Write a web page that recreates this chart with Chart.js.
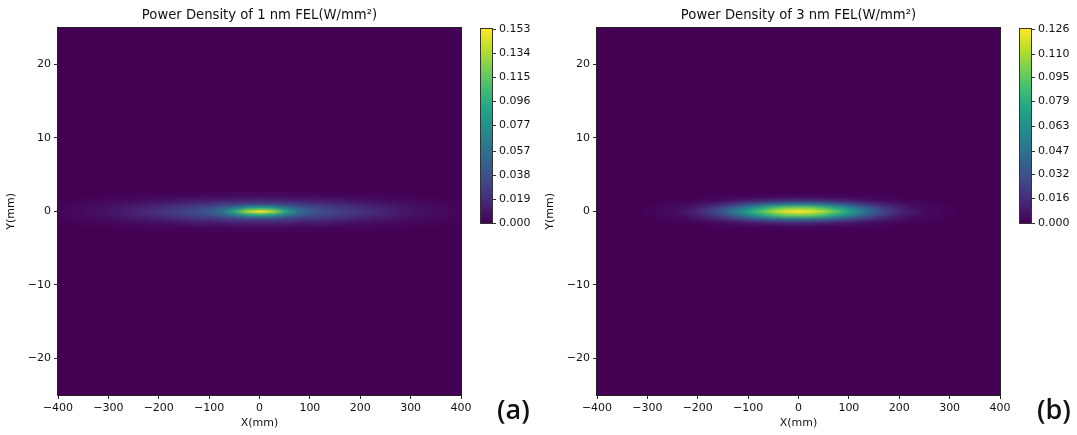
<!DOCTYPE html>
<html>
<head>
<meta charset="utf-8">
<script src="https://cdn.jsdelivr.net/npm/chart.js@4.4.1/dist/chart.umd.min.js"></script>
<style>
  body { margin: 0; background: #fff; width: 1077px; height: 435px; position: relative; overflow: hidden; }
  canvas { position: absolute; top: 0; }
  #chartA { left: 0; }
  #chartB { left: 539px; }
  .tag { position: absolute; top: 390px; font: 600 27px "Open Sans", sans-serif; color: #111; }
</style>
</head>
<body>
<canvas id="chartA" width="539" height="435"></canvas>
<canvas id="chartB" width="538" height="435"></canvas>
<div class="tag" style="left:497px">(a)</div>
<div class="tag" style="left:1037px">(b)</div>
<script>
// grid cell centres (mm)
const xCenters = [-400,-375,-350,-325,-300,-275,-250,-225,-200,-175,-150,-125,-100,-75,-50,-25,0,25,50,75,100,125,150,175,200,225,250,275,300,325,350,375,400];
const yCenters = [2.5, 2, 1.5, 1, 0.5, 0, -0.5, -1, -1.5, -2, -2.5];

const xTicks = [-400, -300, -200, -100, 0, 100, 200, 300, 400];
const yTicks = [-20, -10, 0, 10, 20];

// 1 nm FEL, power density rows (W/mm²)
const rowA_0  = [.002,.003,.005,.006,.009,.011,.014,.018,.022,.026,.030,.035,.042,.059,.093,.133,.153,.133,.093,.059,.042,.035,.030,.026,.022,.018,.014,.011,.009,.006,.005,.003,.002];
const rowA_05 = [.002,.003,.004,.006,.008,.010,.013,.016,.019,.023,.026,.031,.036,.046,.062,.082,.092,.082,.062,.046,.036,.031,.026,.023,.019,.016,.013,.010,.008,.006,.004,.003,.002];
const rowA_1  = [.001,.002,.003,.004,.005,.007,.009,.011,.013,.016,.018,.021,.023,.026,.028,.031,.032,.031,.028,.026,.023,.021,.018,.016,.013,.011,.009,.007,.005,.004,.003,.002,.001];
const rowA_15 = [.001,.001,.002,.002,.003,.004,.005,.006,.007,.008,.010,.011,.012,.013,.014,.014,.015,.014,.014,.013,.012,.011,.010,.008,.007,.006,.005,.004,.003,.002,.002,.001,.001];
const rowA_2  = [0,0,.001,.001,.001,.002,.002,.002,.003,.003,.004,.005,.005,.005,.006,.006,.006,.006,.006,.005,.005,.005,.004,.003,.003,.002,.002,.002,.001,.001,.001,0,0];
const rowA_25 = [0,0,0,0,0,0,.001,.001,.001,.001,.001,.001,.002,.002,.002,.002,.002,.002,.002,.002,.002,.001,.001,.001,.001,.001,.001,0,0,0,0,0,0];
const heatA = [rowA_25, rowA_2, rowA_15, rowA_1, rowA_05, rowA_0, rowA_05, rowA_1, rowA_15, rowA_2, rowA_25];

// 3 nm FEL
const rowB_0  = [0,0,0,0,.001,.002,.004,.008,.014,.023,.036,.053,.073,.092,.110,.122,.126,.122,.110,.092,.073,.053,.036,.023,.014,.008,.004,.002,.001,0,0,0,0];
const rowB_05 = [0,0,0,0,.001,.002,.003,.006,.011,.019,.029,.042,.058,.074,.088,.097,.101,.097,.088,.074,.058,.042,.029,.019,.011,.006,.003,.002,.001,0,0,0,0];
const rowB_1  = [0,0,0,0,0,.001,.002,.003,.006,.009,.015,.022,.030,.038,.045,.050,.052,.050,.045,.038,.030,.022,.015,.009,.006,.003,.002,.001,0,0,0,0,0];
const rowB_15 = [0,0,0,0,0,0,.001,.001,.002,.003,.005,.007,.010,.012,.015,.016,.017,.016,.015,.012,.010,.007,.005,.003,.002,.001,.001,0,0,0,0,0,0];
const rowB_2  = [0,0,0,0,0,0,0,0,0,.001,.001,.002,.002,.003,.003,.004,.004,.004,.003,.003,.002,.002,.001,.001,0,0,0,0,0,0,0,0,0];
const rowB_25 = [0,0,0,0,0,0,0,0,0,0,0,0,0,0,0,0,0,0,0,0,0,0,0,0,0,0,0,0,0,0,0,0,0];
const heatB = [rowB_25, rowB_2, rowB_15, rowB_1, rowB_05, rowB_0, rowB_05, rowB_1, rowB_15, rowB_2, rowB_25];

const cbTicksA = [0.000, 0.019, 0.038, 0.057, 0.077, 0.096, 0.115, 0.134, 0.153];
const cbTicksB = [0.000, 0.016, 0.032, 0.047, 0.063, 0.079, 0.095, 0.110, 0.126];

const viridisStops = [
    [68,1,84],[72,36,117],[65,68,135],[53,95,141],[42,120,142],[33,145,140],
    [34,168,132],[68,191,112],[122,209,81],[189,223,38],[253,231,37]
];
function viridis(t) {
    t = Math.max(0, Math.min(1, t));
    const p = t * (viridisStops.length - 1);
    const i = Math.min(Math.floor(p), viridisStops.length - 2);
    const f = p - i;
    const a = viridisStops[i], b = viridisStops[i + 1];
    return [0, 1, 2].map(k => Math.round(a[k] + (b[k] - a[k]) * f));
}

const FONT = "DejaVu Sans";
const TXT = "#111";
const fmt = v => v < 0 ? "\u2212" + Math.abs(v) : String(v);

function heatPlugin(grid, cbTicks) {
    const vmax = cbTicks[cbTicks.length - 1];
    return {
        id: "heat",
        beforeDatasetsDraw(chart) {
            const { ctx, chartArea: a, scales: { x, y } } = chart;
            ctx.save();
            ctx.beginPath();
            ctx.rect(a.left, a.top, a.right - a.left, a.bottom - a.top);
            ctx.clip();
            ctx.fillStyle = "rgb(68,1,84)";
            ctx.fillRect(a.left, a.top, a.right - a.left, a.bottom - a.top);

            const off = document.createElement("canvas");
            off.width = xCenters.length;
            off.height = yCenters.length;
            const octx = off.getContext("2d");
            const img = octx.createImageData(off.width, off.height);
            grid.forEach((row, j) => row.forEach((v, i) => {
                const c = viridis(v / vmax);
                const k = (j * off.width + i) * 4;
                img.data[k] = c[0]; img.data[k + 1] = c[1]; img.data[k + 2] = c[2]; img.data[k + 3] = 255;
            }));
            octx.putImageData(img, 0, 0);

            const hx = (xCenters[1] - xCenters[0]) / 2;
            const hy = (yCenters[0] - yCenters[1]) / 2;
            const x0 = x.getPixelForValue(xCenters[0] - hx);
            const x1 = x.getPixelForValue(xCenters[xCenters.length - 1] + hx);
            const y0 = y.getPixelForValue(yCenters[0] + hy);
            const y1 = y.getPixelForValue(yCenters[yCenters.length - 1] - hy);
            ctx.imageSmoothingEnabled = true;
            ctx.imageSmoothingQuality = "low";
            ctx.drawImage(off, x0, y0, x1 - x0, y1 - y0);
            ctx.restore();
        },
        afterDraw(chart) {
            const { ctx, chartArea: a } = chart;
            ctx.save();
            // axes frame
            ctx.strokeStyle = "#222";
            ctx.lineWidth = 1;
            ctx.strokeRect(Math.round(a.left) - 0.5, Math.round(a.top) - 0.5,
                Math.round(a.right - a.left) + 1, Math.round(a.bottom - a.top) + 1);

            // colorbar
            const cbX = Math.round(a.right) + 20, cbW = 11;
            const cbTop = Math.round(a.top) + 1, cbH = 194;
            const cbBot = cbTop + cbH;
            const g = ctx.createLinearGradient(0, cbBot, 0, cbTop);
            viridisStops.forEach((c, i) => g.addColorStop(i / (viridisStops.length - 1), `rgb(${c[0]},${c[1]},${c[2]})`));
            ctx.fillStyle = g;
            ctx.fillRect(cbX, cbTop, cbW, cbH);
            ctx.strokeStyle = "#333";
            ctx.strokeRect(cbX - 0.5, cbTop - 0.5, cbW + 1, cbH + 1);

            ctx.fillStyle = TXT;
            ctx.font = `11px "${FONT}"`;
            ctx.textBaseline = "middle";
            ctx.textAlign = "left";
            cbTicks.forEach(v => {
                const ty = Math.round(cbBot - (v / vmax) * cbH) + 0.5;
                ctx.beginPath();
                ctx.moveTo(cbX + cbW + 0.5, ty);
                ctx.lineTo(cbX + cbW + 4, ty);
                ctx.stroke();
                ctx.fillText(v.toFixed(3), cbX + cbW + 7, ty);
            });
            ctx.restore();
        }
    };
}

function makeChart(id, title, grid, cbTicks, rightPad) {
    const axisFont = { family: FONT, size: 11 };
    new Chart(document.getElementById(id), {
        type: "scatter",
        data: { datasets: [] },
        options: {
            responsive: false,
            animation: false,
            events: [],
            layout: { padding: { left: 0, right: rightPad, top: 0, bottom: 0 } },
            plugins: {
                legend: { display: false },
                tooltip: { enabled: false },
                title: {
                    display: true, text: title, fullSize: false, color: TXT,
                    font: { family: FONT, size: 13.2, weight: "normal" },
                    padding: { top: 8, bottom: 4 }
                }
            },
            scales: {
                x: {
                    type: "linear", min: -400, max: 400,
                    afterBuildTicks: s => { s.ticks = xTicks.map(v => ({ value: v })); },
                    afterFit: s => { s.height = 40; },
                    grid: { drawOnChartArea: false, drawTicks: true, tickLength: 4, color: "#222" },
                    border: { display: false },
                    ticks: { color: TXT, font: axisFont, padding: 3, maxRotation: 0, autoSkip: false, callback: fmt },
                    title: { display: true, text: "X(mm)", color: TXT, font: axisFont, padding: { top: 0, bottom: 5 } }
                },
                y: {
                    type: "linear", min: -25, max: 25,
                    afterBuildTicks: s => { s.ticks = yTicks.map(v => ({ value: v })); },
                    afterFit: s => { s.width = 58; },
                    grid: { drawOnChartArea: false, drawTicks: true, tickLength: 4, color: "#222" },
                    border: { display: false },
                    ticks: { color: TXT, font: axisFont, padding: 3, autoSkip: false, callback: fmt },
                    title: { display: true, text: "Y(mm)", color: TXT, font: axisFont, padding: { top: 5, bottom: 0 } }
                }
            }
        },
        plugins: [heatPlugin(grid, cbTicks)]
    });
}

makeChart("chartA", "Power Density of 1 nm FEL(W/mm²)", heatA, cbTicksA, 78);
makeChart("chartB", "Power Density of 3 nm FEL(W/mm²)", heatB, cbTicksB, 77);
</script>
</body>
</html>
